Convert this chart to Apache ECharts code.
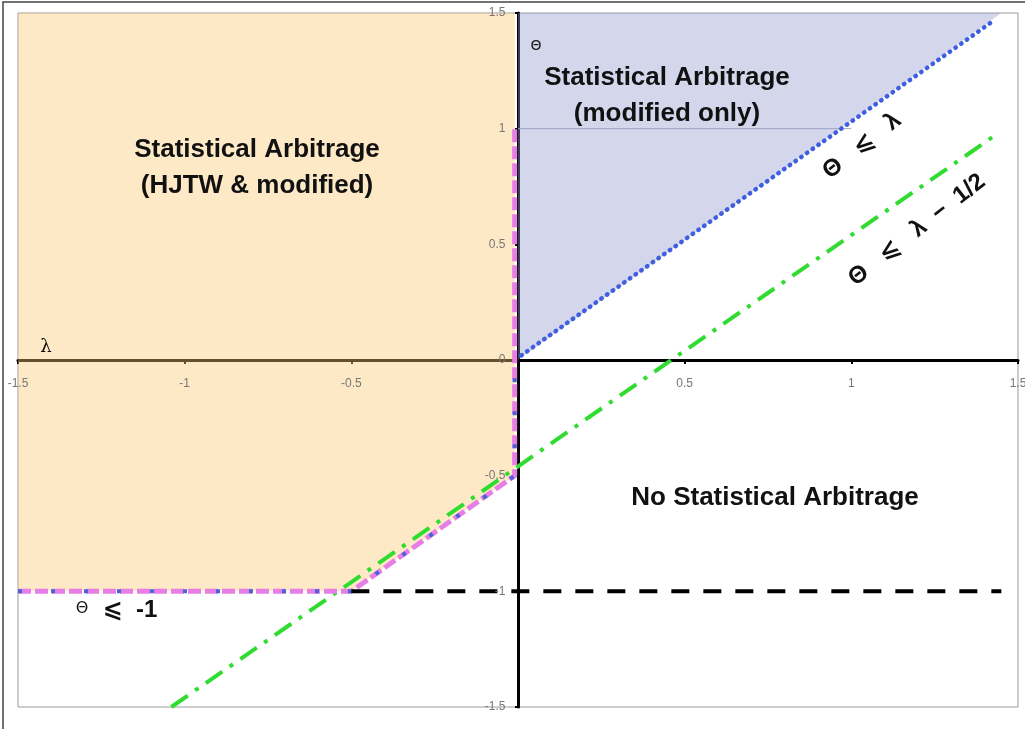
<!DOCTYPE html>
<html>
<head>
<meta charset="utf-8">
<script src="https://cdn.jsdelivr.net/npm/echarts@6/dist/echarts.min.js"></script>
<style>
html,body{margin:0;padding:0;background:#fff;}
#chart{width:1025px;height:729px;}
</style>
</head>
<body>
<div id="chart"></div>
<script>
// ---- data (λ, Θ) ----
var xTickLabels = [-1.5, -1, -0.5, 0.5, 1, 1.5];
var yTickLabels = [-1.5, -1, -0.5, 0, 0.5, 1, 1.5];
var regionHJTW = [[-1.5, 1.5], [-0.01, 1.5], [-0.01, -0.5], [-0.5, -1], [-1.5, -1]];
var regionModified = [[0, 0], [0, 1.5], [1.45, 1.5]];
var gridLineTheta1 = [[0, 1], [1, 1]];
var lineLambdaHalf = [[-1.04, -1.5], [1.43, 0.97]];       // Θ = λ − 1/2
var lineHJTW = [[-1.5, -1], [-0.5, -1], [-0.01, -0.5], [-0.01, 1]];  // pink dashed boundary
var lineModLeft = [[-1.5, -1], [-0.5, -1], [-0.01, -0.5], [-0.01, 0]];  // blue boundary (left)
var lineModRight = [[0.01, 0.02], [1.43, 1.47]];          // Θ = λ
var lineMinusOne = [[-0.5, -1], [1.45, -1]];             // Θ = −1

var chart = echarts.init(document.getElementById('chart'), null, {renderer: 'canvas'});

function polySeries(pts, color) {
  return {
    type: 'custom',
    data: pts,
    z: 3,
    silent: true,
    encode: {x: 0, y: 1},
    renderItem: function (params, api) {
      if (params.dataIndex !== 0) return;
      var p = pts.map(function (d) { return api.coord(d); });
      return {type: 'polygon', shape: {points: p}, style: {fill: color}};
    }
  };
}
function lineSeries(pts, color, width, dash, z, cap) {
  return {
    type: 'line', data: pts, symbol: 'none', silent: true, z: z,
    lineStyle: {color: color, width: width, type: dash, cap: cap || 'butt'}
  };
}
function tickLabelSeries(pts, pos, dist) {
  return {
    type: 'scatter', data: pts, symbolSize: 1, silent: true, z: 20,
    itemStyle: {color: 'rgba(0,0,0,0)'},
    label: {
      show: true, position: pos, distance: dist, color: '#777', fontSize: 12, opacity: 1,
      fontFamily: 'Liberation Sans, Arial',
      formatter: function (p) { return String(pos === 'bottom' ? p.value[0] : p.value[1]); }
    }
  };
}

var labelFont = 'bold 26px "Liberation Sans", Arial, sans-serif';
var eqFont = 'bold 24px "Liberation Sans", "DejaVu Sans", Arial, sans-serif';
function txt(x, y, text, font, rot) {
  return {
    type: 'text', x: x, y: y, rotation: rot || 0, z: 100,
    style: {text: text, font: font, fill: '#111', align: 'center', verticalAlign: 'middle'}
  };
}
var rot = 38 * Math.PI / 180;

var option = {
  animation: false,
  backgroundColor: '#fff',
  grid: {left: 18, right: 7, top: 13, bottom: 22, containLabel: false, outerBoundsMode: 'none',
         show: true, borderColor: '#9a9a9a', borderWidth: 1, backgroundColor: 'transparent'},
  xAxis: {
    type: 'value', min: -1.5, max: 1.5, interval: 0.5,
    axisLine: {onZero: true, lineStyle: {color: '#000', width: 3}},
    axisTick: {show: true, length: 4, lineStyle: {color: '#000', width: 2}},
    splitLine: {show: false},
    axisLabel: {show: false}
  },
  yAxis: {
    type: 'value', min: -1.5, max: 1.5, interval: 0.5,
    axisLine: {onZero: true, lineStyle: {color: '#000', width: 3}},
    axisTick: {show: true, length: 3, lineStyle: {color: '#000', width: 2}},
    splitLine: {show: false},
    axisLabel: {show: false}
  },
  series: [
    lineSeries(gridLineTheta1, '#a8a8b8', 1, 'solid', 2),
    polySeries(regionHJTW, 'rgba(250,200,110,0.40)'),
    polySeries(regionModified, 'rgba(147,155,205,0.40)'),
    lineSeries(lineLambdaHalf, '#2fdc2f', 4, [20, 9, 4, 9], 5),
    lineSeries(lineHJTW, '#e67ee6', 5, [13, 4], 6),
    lineSeries(lineModLeft, '#4a63d8', 4, [4, 29], 7),
    lineSeries(lineModRight, '#3f5fe0', 4.5, [0.5, 6.5], 7, 'round'),
    lineSeries(lineMinusOne, '#000', 4, [18, 14], 8),
    tickLabelSeries(xTickLabels.map(function (v) { return [v, 0]; }), 'bottom', 17),
    tickLabelSeries(yTickLabels.map(function (v) { return [0, v]; }), 'left', 12)
  ],
  graphic: [
    {type: 'rect', shape: {x: 3, y: 2, width: 1040, height: 760}, style: {fill: null, stroke: '#444', lineWidth: 1.5}, z: 100, silent: true},
    txt(257, 150, 'Statistical Arbitrage', labelFont),
    txt(257, 186, '(HJTW & modified)', labelFont),
    txt(667, 78, 'Statistical Arbitrage', labelFont),
    txt(667, 114, '(modified only)', labelFont),
    txt(775, 498, 'No Statistical Arbitrage', labelFont),
    txt(862, 146, 'Θ   ⩽   λ', eqFont, rot),
    txt(917, 230, 'Θ   ⩽   λ  −  1/2', eqFont, rot),
    txt(82, 609, 'Θ', '16px "DejaVu Sans", sans-serif'),
    txt(130, 610, '⩽  -1', eqFont),
    txt(536, 46, 'Θ', '14px "DejaVu Sans", sans-serif'),
    txt(46, 347, 'λ', '18px "DejaVu Serif", serif')
  ]
};
chart.setOption(option);
</script>
</body>
</html>
